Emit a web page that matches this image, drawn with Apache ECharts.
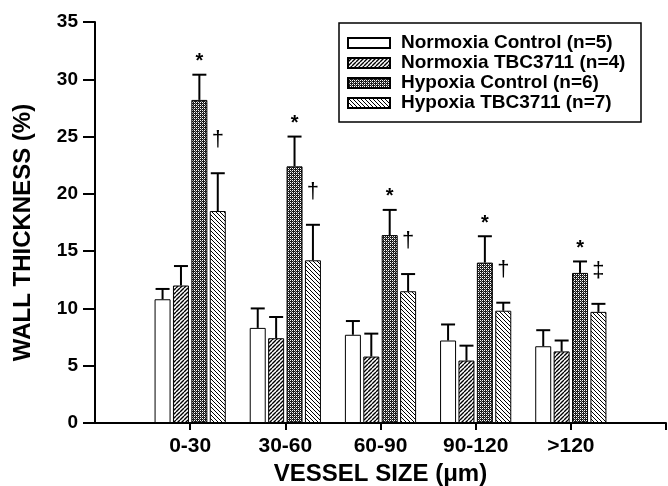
<!DOCTYPE html>
<html>
<head>
<meta charset="utf-8">
<title>Wall thickness</title>
<script src="https://cdn.jsdelivr.net/npm/echarts@6/dist/echarts.min.js"></script>
<style>
html, body { margin: 0; padding: 0; background: #fff; }
#chart { width: 668px; height: 486px; }
</style>
</head>
<body>
<div id="chart"></div>
<script>
// vessel size groups
var categories = ['0-30', '30-60', '60-90', '90-120', '>120'];
var seriesNames = ['Normoxia Control (n=5)', 'Normoxia TBC3711 (n=4)', 'Hypoxia Control (n=6)', 'Hypoxia TBC3711 (n=7)'];

// mean wall thickness (%)
var normoxiaControl = [10.8, 8.3, 7.7, 7.2, 6.7];
var normoxiaTbc = [12.0, 7.4, 5.8, 5.45, 6.25];
var hypoxiaControl = [28.2, 22.4, 16.4, 14.0, 13.1];
var hypoxiaTbc = [18.5, 14.2, 11.5, 9.8, 9.7];

// error (upper bar only)
var normoxiaControlErr = [0.9, 1.7, 1.2, 1.4, 1.4];
var normoxiaTbcErr = [1.7, 1.85, 2.0, 1.3, 0.95];
var hypoxiaControlErr = [2.2, 2.6, 2.2, 2.3, 1.0];
var hypoxiaTbcErr = [3.3, 3.1, 1.5, 0.7, 0.7];

// significance marks
var hypoxiaControlMarks = ['*', '*', '*', '*', '*'];
var hypoxiaTbcMarks = ['\u2020', '\u2020', '\u2020', '\u2020', '\u2021'];

var yTicks = [0, 5, 10, 15, 20, 25, 30, 35];

var BAR_W = 16;
var BAR_STEP = 18.4;
var FONT = '"Liberation Sans", Arial, sans-serif';

/**
 * 斜线填充图案
 */
function hatchPattern(dir, size, lw) {
	var c = document.createElement('canvas');
	c.width = size;
	c.height = size;
	var g = c.getContext('2d');
	g.fillStyle = '#fff';
	g.fillRect(0, 0, size, size);
	g.strokeStyle = '#000';
	g.lineWidth = lw;
	g.beginPath();
	for (var k = -size; k <= size; k += size) {
		if (dir == '/') {
			g.moveTo(k, size);
			g.lineTo(k + size, 0);
		} else {
			g.moveTo(k, 0);
			g.lineTo(k + size, size);
		}
	}
	g.stroke();
	return c;
}

/**
 * 深色网点图案
 */
function dotPattern() {
	var c = document.createElement('canvas');
	c.width = 4;
	c.height = 4;
	var g = c.getContext('2d');
	g.fillStyle = '#1a1a1a';
	g.fillRect(0, 0, 4, 4);
	g.fillStyle = '#fff';
	g.fillRect(0, 0, 1, 1);
	g.fillRect(2, 2, 1, 1);
	g.fillRect(2, 0, 1, 1);
	g.fillRect(0, 2, 1, 1);
	g.fillStyle = '#888';
	g.fillRect(1, 1, 1, 1);
	g.fillRect(3, 3, 1, 1);
	return c;
}

// padded axis: empty slot at each end so groups sit on the ticks
var axisData = [''].concat(categories).concat(['']);

function padded(arr) {
	return ['-'].concat(arr).concat(['-']);
}

function errData(vals, errs) {
	var out = [];
	for (var i = 0; i < vals.length; i++) {
		out.push([i + 1, vals[i], vals[i] + errs[i]]);
	}
	return out;
}

function markData(vals, errs, marks) {
	var out = [];
	for (var i = 0; i < vals.length; i++) {
		out.push([i + 1, vals[i] + errs[i], marks[i]]);
	}
	return out;
}

function errorSeries(idx, vals, errs) {
	var off = (idx - 1.5) * BAR_STEP;
	return {
		type: 'custom',
		z: 5,
		data: errData(vals, errs),
		renderItem: function (params, api) {
			var base = api.coord([api.value(0), api.value(1)]);
			var top = api.coord([api.value(0), api.value(2)]);
			var x = base[0] + off;
			return {
				type: 'group',
				children: [{
					type: 'line',
					shape: { x1: x, y1: base[1], x2: x, y2: top[1] },
					style: { stroke: '#000', lineWidth: 2 }
				}, {
					type: 'line',
					shape: { x1: x - 7, y1: top[1], x2: x + 7, y2: top[1] },
					style: { stroke: '#000', lineWidth: 2 }
				}]
			};
		}
	};
}

function markSeries(idx, vals, errs, marks, dy, font) {
	var off = (idx - 1.5) * BAR_STEP;
	return {
		type: 'custom',
		z: 6,
		data: markData(vals, errs, marks),
		renderItem: function (params, api) {
			var p = api.coord([api.value(0), api.value(1)]);
			return {
				type: 'text',
				x: p[0] + off,
				y: p[1] - dy,
				style: {
					text: marks[params.dataIndex],
					font: font,
					fill: '#000',
					align: 'center',
					verticalAlign: 'middle'
				}
			};
		}
	};
}

function barSeries(name, vals, color) {
	return {
		name: name,
		type: 'bar',
		barWidth: BAR_W,
		barGap: '15%',
		data: padded(vals),
		itemStyle: { color: color, borderColor: '#000', borderWidth: 1 }
	};
}

var myChart = echarts.init(document.getElementById('chart'));

var fillN = '#fff';
var fillNT = { image: hatchPattern('/', 4, 1.4), repeat: 'repeat' };
var fillH = { image: dotPattern(), repeat: 'repeat' };
var fillHT = { image: hatchPattern('\\', 4, 1.0), repeat: 'repeat' };

var option = {
	animation: false,
	backgroundColor: '#fff',
	grid: { left: 95, right: 2, top: 22, bottom: 63, containLabel: false, outerBoundsMode: 'none' },
	legend: {
		data: seriesNames,
		orient: 'vertical',
		left: 347,
		top: 33,
		padding: 0,
		itemGap: 0,
		itemWidth: 42,
		itemHeight: 10,
		icon: 'rect',
		textStyle: { fontFamily: FONT, fontWeight: 'bold', fontSize: 19, color: '#000', lineHeight: 20, padding: [0, 0, 0, 6] }
	},
	graphic: [{
		type: 'rect',
		shape: { x: 339, y: 23, width: 302, height: 99 },
		style: { fill: 'none', stroke: '#000', lineWidth: 1.5 }
	}],
	xAxis: {
		type: 'category',
		data: axisData,
		boundaryGap: false,
		name: 'VESSEL SIZE (\u03bcm)',
		nameLocation: 'middle',
		nameGap: 33,
		nameTextStyle: { fontFamily: FONT, fontWeight: 'bold', fontSize: 24, color: '#000' },
		axisLine: { lineStyle: { color: '#000', width: 2 } },
		axisTick: {
			length: 7,
			interval: function (idx) { return idx > 0; },
			lineStyle: { color: '#000', width: 2 }
		},
		axisLabel: { margin: 13, fontFamily: FONT, fontWeight: 'bold', fontSize: 21, color: '#000', interval: 0 },
		splitLine: { show: false }
	},
	yAxis: {
		type: 'value',
		min: yTicks[0],
		max: yTicks[yTicks.length - 1],
		interval: 5,
		name: 'WALL THICKNESS (%)',
		nameLocation: 'middle',
		nameRotate: 90,
		nameGap: 60,
		nameTextStyle: { fontFamily: FONT, fontWeight: 'bold', fontSize: 24, color: '#000', padding: [0, 20, 0, 0] },
		axisLine: { show: true, lineStyle: { color: '#000', width: 2 } },
		axisTick: { show: true, length: 12, lineStyle: { color: '#000', width: 2 } },
		axisLabel: { margin: 17, fontFamily: FONT, fontWeight: 'bold', fontSize: 19, color: '#000' },
		splitLine: { show: false }
	},
	series: [
		barSeries(seriesNames[0], normoxiaControl, fillN),
		barSeries(seriesNames[1], normoxiaTbc, fillNT),
		barSeries(seriesNames[2], hypoxiaControl, fillH),
		barSeries(seriesNames[3], hypoxiaTbc, fillHT),
		errorSeries(0, normoxiaControl, normoxiaControlErr),
		errorSeries(1, normoxiaTbc, normoxiaTbcErr),
		errorSeries(2, hypoxiaControl, hypoxiaControlErr),
		errorSeries(3, hypoxiaTbc, hypoxiaTbcErr),
		markSeries(2, hypoxiaControl, hypoxiaControlErr, hypoxiaControlMarks, 13, 'bold 20px ' + FONT),
		markSeries(3, hypoxiaTbc, hypoxiaTbcErr, hypoxiaTbcMarks, 33, '22px ' + FONT)
	]
};

myChart.setOption(option);
window.onresize = myChart.resize;
</script>
</body>
</html>
